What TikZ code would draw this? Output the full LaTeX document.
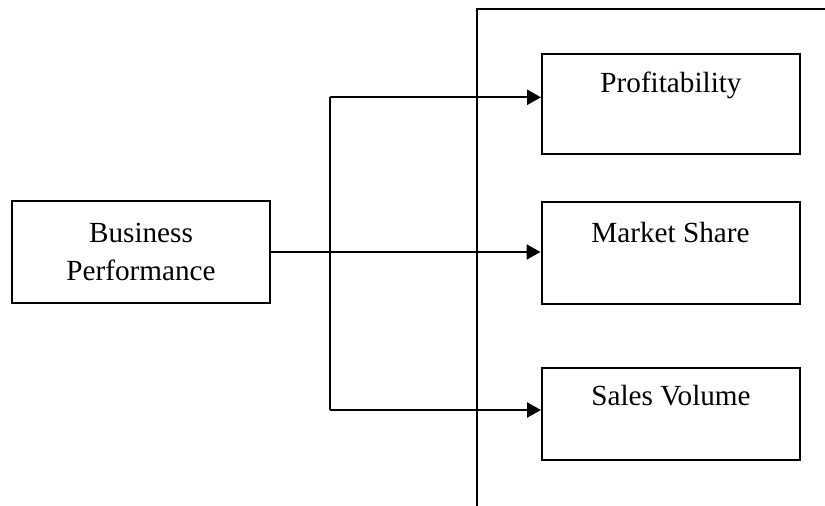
\documentclass[tikz,border=0pt]{standalone}
\usepackage{fontspec}
\setmainfont{Liberation Serif}
\usetikzlibrary{arrows.meta}
\begin{document}
\begin{tikzpicture}[x=1pt,y=-1pt,
  every node/.style={font=\fontsize{29.2}{38}\selectfont},
  box/.style={draw, line width=2pt, inner sep=0pt, minimum width=258pt, align=center},
  conn/.style={line width=2.2pt},
  arr/.style={conn, -{Triangle[length=14pt,width=15pt]}}]
\useasboundingbox (0,0) rectangle (825,506);
% boxes (text height = baseline distance below top edge)
\node[box, minimum height=102pt, text depth=0pt] (bp) at (141,252) {Business\\Performance};
\node[box, text height=39pt, text depth=61pt] (prof) at (671,52.7) [anchor=north] {Profitability};
\node[box, text height=40pt, text depth=62pt] (ms) at (670.5,201) [anchor=north] {Market Share};
\node[box, text height=38pt, text depth=54pt] (sv) at (671,366.7) [anchor=north] {Sales Volume};
% branch points
\coordinate (jt) at (330,97.3);
\coordinate (jb) at (330,410);
% connectors
\draw[arr] (bp.east) -- (bp.east -| ms.west);
\draw[conn] (jt) -- (jb);
\draw[arr] (jt) -- (jt -| prof.west);
\draw[arr] (jb) -- (jb -| sv.west);
% frame line
\coordinate (fr) at (825,9.3);
\coordinate (fc) at (477,9.3);
\coordinate (fb) at (477,506);
\draw[conn] (fr) -- (fc) -- (fb);
\end{tikzpicture}
\end{document}
